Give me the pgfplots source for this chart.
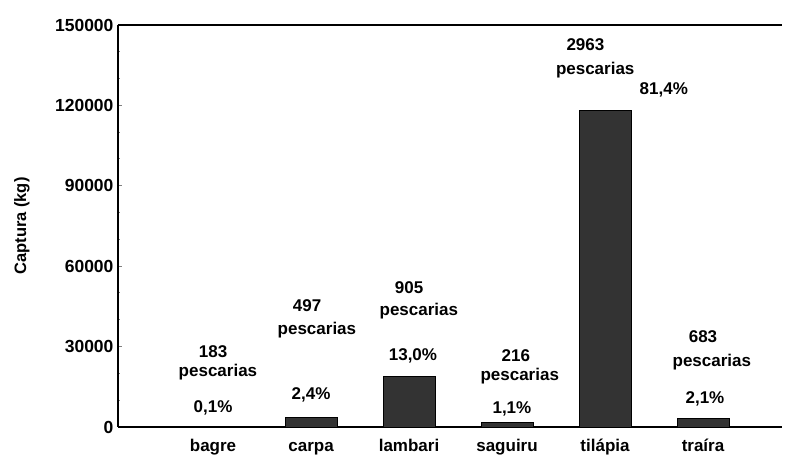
\documentclass[border=0pt]{standalone}
\usepackage{fontspec}
\setmainfont{Liberation Sans}
\usepackage{pgfplots}
\pgfplotsset{compat=1.18}
\begin{document}
\begin{tikzpicture}[font=\fontsize{17}{19}\selectfont\bfseries]
\path[use as bounding box] (-118pt,-35pt) rectangle (677pt,427pt);
\begin{axis}[
  at={(0pt,0pt)}, anchor=south west,
  scale only axis, width=664pt, height=402pt,
  xmin=-0.97, xmax=5.806, ymin=0, ymax=150000,
  axis x line=box, axis y line=left,
  axis line style={-, line width=1.4pt},
  ytick={0,30000,...,150000}, minor y tick num=2,
  scaled y ticks=false,
  yticklabel style={/pgf/number format/fixed, /pgf/number format/1000 sep={}, xshift=-1pt, font=\fontsize{17.5}{19}\selectfont\bfseries},
  /pgf/number format/assume math mode=true,
  xtick={0,...,5}, xticklabels={bagre,carpa,lambari,saguiru,tilápia,traíra},
  xticklabel style={yshift=-4pt, text height=12.5pt, text depth=3.5pt},
  x tick style={draw=none},
  tick align=inside, major tick length=4pt, minor tick length=2.5pt,
  y tick style={line width=1pt},
  ylabel={Captura (kg)},
  ylabel style={at={(axis description cs:-0.1446,0.5)}, anchor=center, font=\fontsize{16.5}{18}\selectfont\bfseries},
  ybar, bar width=52pt,
  clip=false,
]
\addplot[draw=black, line width=0.8pt, fill=black!80]
  coordinates {(0,145) (1,3480) (2,18850) (3,1600) (4,118000) (5,3050)};
\node at (axis cs:0,28000) {183};
\node at (axis cs:0.05,20500) {pescarias};
\node at (axis cs:0,7100) {0,1\%};
\node at (axis cs:0.96,45100) {497};
\node at (axis cs:1.06,36200) {pescarias};
\node at (axis cs:1,11900) {2,4\%};
\node at (axis cs:2,51900) {905};
\node at (axis cs:2.1,43300) {pescarias};
\node at (axis cs:2.04,26500) {13,0\%};
\node at (axis cs:3.09,26500) {216};
\node at (axis cs:3.13,19000) {pescarias};
\node at (axis cs:3.05,6700) {1,1\%};
\node at (axis cs:3.8,142500) {2963};
\node at (axis cs:3.9,133200) {pescarias};
\node at (axis cs:4.6,125700) {81,4\%};
\node at (axis cs:5,33600) {683};
\node at (axis cs:5.09,24300) {pescarias};
\node at (axis cs:5.02,10400) {2,1\%};
\end{axis}
\end{tikzpicture}
\end{document}
